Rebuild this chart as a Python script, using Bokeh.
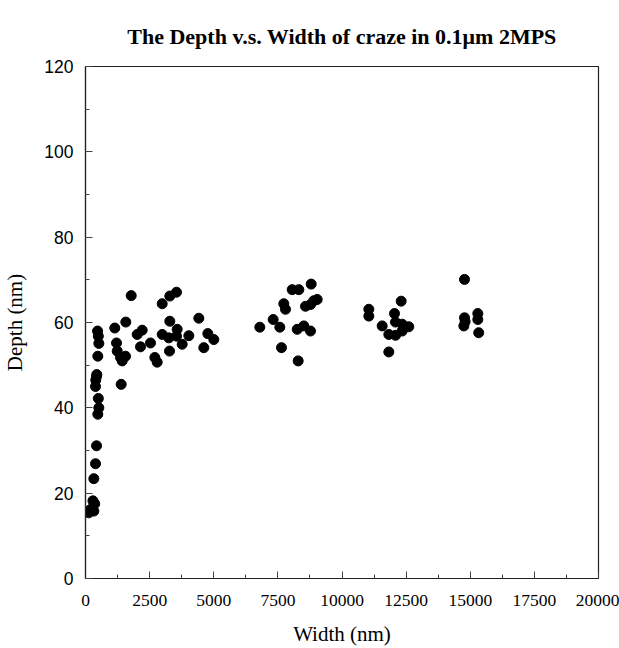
from bokeh.plotting import figure
from bokeh.models import Range1d, SingleIntervalTicker, Title
from bokeh.embed import file_html
from bokeh.resources import INLINE

# Width (nm) and Depth (nm)
width_nm = [130, 200, 290, 325, 390, 430, 480, 520, 500,
            325, 360, 390, 400, 430, 440, 480, 520, 500, 470,
            1142, 1209, 1236, 1365, 1430, 1560, 1391, 1571, 1782,
            2015, 2144, 2210, 2534, 2703, 2795, 2990, 2990, 3248, 3275,
            3287, 3287, 3548, 3548, 3574, 3769, 4028, 4418, 4613, 4769, 5003,
            6796, 7317, 7576, 7641, 7731, 7797, 8058, 8254, 8291, 8317,
            8512, 8577, 8772, 8772, 8799, 8902, 9033,
            11046, 11046, 11566, 11825, 11825, 12047, 12086, 12086, 12307,
            12346, 12346, 12604,
            14750, 14776, 14776, 14800, 15295, 15295, 15330]
depth_nm = [15.4, 16.2, 18.2, 23.4, 26.9, 31.1, 38.5, 40.0, 42.2,
            15.8, 17.5, 45.0, 46.5, 47.4, 47.8, 52.1, 55.1, 56.8, 58.0,
            58.7, 55.2, 53.3, 51.8, 51.0, 52.1, 45.5, 60.1, 66.3,
            57.2, 54.3, 58.2, 55.2, 51.8, 50.7, 64.4, 57.2, 56.4, 53.3,
            66.2, 60.3, 67.1, 56.8, 58.4, 54.9, 56.9, 61.0, 54.1, 57.4, 56.0,
            58.9, 60.7, 58.9, 54.1, 64.4, 63.1, 67.7, 58.4, 51.0, 67.7,
            59.2, 63.8, 58.0, 64.2, 69.0, 65.1, 65.4,
            63.1, 61.5, 59.2, 57.2, 53.1, 62.1, 60.1, 57.0, 65.0,
            59.6, 58.0, 59.0,
            59.2, 70.1, 61.1, 60.2, 62.1, 60.7, 57.6]

x_ticks_step = 2500
y_ticks_step = 20

p = figure(width=619, height=648, output_backend="svg", toolbar_location=None,
           x_range=Range1d(0, 20000), y_range=Range1d(0, 120),
           min_border_left=85, min_border_right=21, min_border_bottom=69,
           min_border_top=66)

p.title = Title(text="The Depth v.s. Width of craze in 0.1\u03bcm 2MPS",
                text_font="Liberation Serif", text_font_size="22px",
                text_font_style="bold", align="center", text_color="black",
                offset=0, standoff=36)

p.scatter(width_nm, depth_nm, size=10, color="black", marker="circle")

p.xgrid.visible = False
p.ygrid.visible = False
p.outline_line_color = "#222222"
p.outline_line_width = 1.2
p.outline_line_alpha = 1

for ax in (p.xaxis[0], p.yaxis[0]):
    ax.axis_line_color = "#222222"
    ax.axis_line_width = 1.2
    ax.major_tick_in = 7
    ax.major_tick_out = 0
    ax.minor_tick_in = 4
    ax.minor_tick_out = 0
    ax.major_tick_line_color = "#444444"
    ax.minor_tick_line_color = "#444444"
    ax.major_label_text_color = "black"
    ax.axis_label_text_color = "black"
    ax.axis_label_text_font = "Liberation Serif"
    ax.axis_label_text_font_size = "21px"
    ax.axis_label_text_font_style = "normal"

p.xaxis[0].ticker = SingleIntervalTicker(interval=x_ticks_step, num_minor_ticks=2)
p.yaxis[0].ticker = SingleIntervalTicker(interval=y_ticks_step, num_minor_ticks=2)

p.xaxis[0].axis_label = "Width (nm)"
p.yaxis[0].axis_label = "Depth (nm)"
p.xaxis[0].major_label_text_font = "Liberation Serif"
p.xaxis[0].major_label_text_font_size = "17.5px"
p.yaxis[0].major_label_text_font = "Liberation Sans"
p.yaxis[0].major_label_text_font_size = "17.5px"
p.xaxis[0].major_label_standoff = 16
p.yaxis[0].major_label_standoff = 12
p.xaxis[0].axis_label_standoff = 13
p.yaxis[0].axis_label_standoff = 14

open("out.html", "w").write(file_html(p, INLINE))
